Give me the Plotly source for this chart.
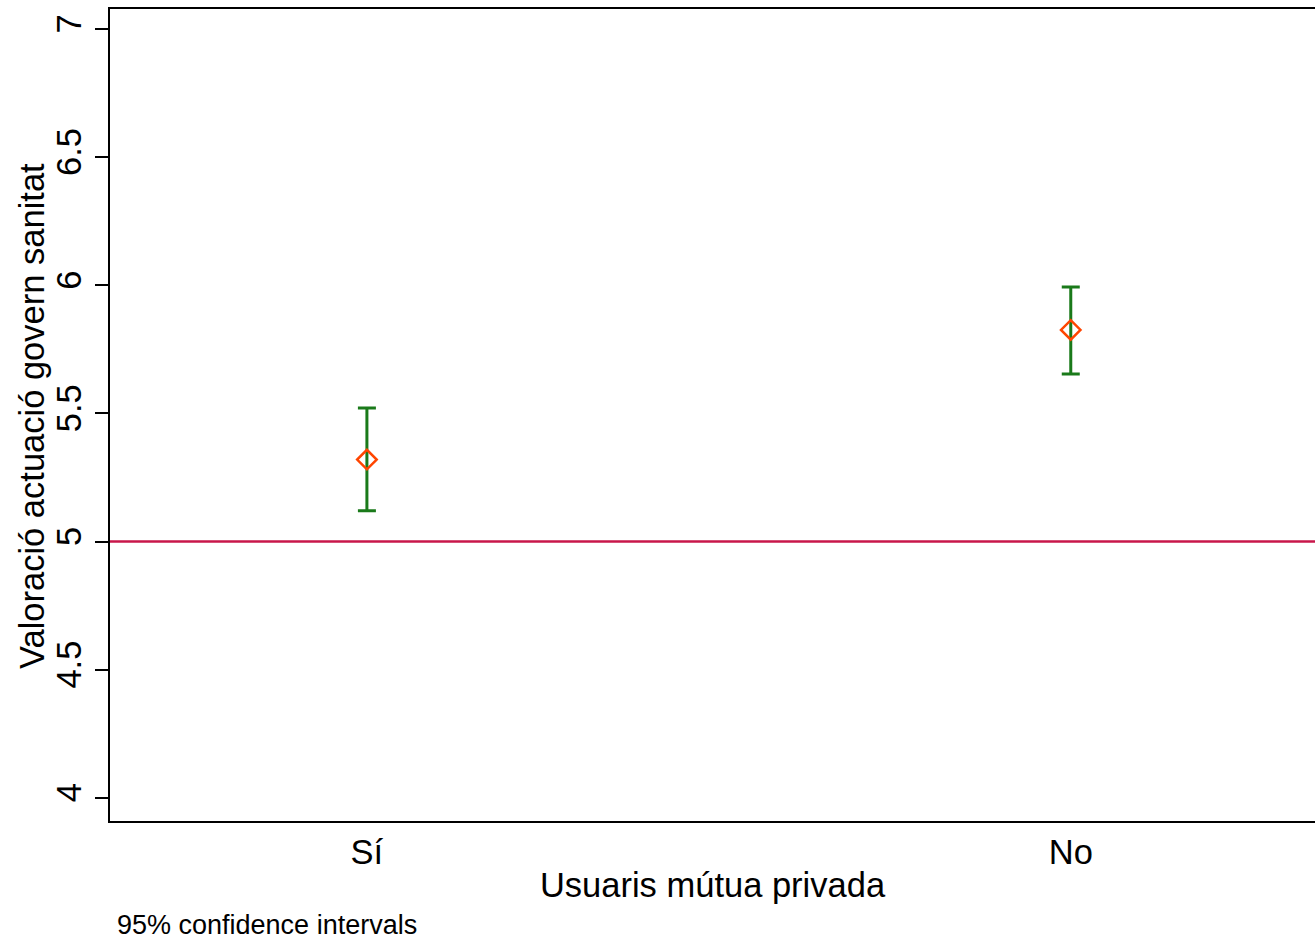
import plotly.graph_objects as go

categories = ["Sí", "No"]
x_pos = [1, 2]
means = [5.32, 5.826]
upper = [5.521, 5.993]
lower = [5.120, 5.654]
ref_value = 5
y_ticks = [4, 4.5, 5, 5.5, 6, 6.5, 7]
y_ticklabels = ["4", "4.5", "5", "5.5", "6", "6.5", "7"]

err_plus = [u - m for u, m in zip(upper, means)]
err_minus = [m - l for m, l in zip(means, lower)]

FONT = "Liberation Sans, Arial, sans-serif"
FS = 34.5

fig = go.Figure()
fig.add_trace(go.Scatter(
    x=x_pos, y=means, mode="markers",
    marker=dict(symbol="diamond-open", size=15, color="#ff4500", line=dict(width=2.5, color="#ff4500")),
    error_y=dict(type="data", symmetric=False, array=err_plus, arrayminus=err_minus,
                 color="#1a7a1a", thickness=3, width=9),
    showlegend=False,
))
fig.add_hline(y=ref_value, line=dict(color="#c8174a", width=2.5), layer="below")

fig.update_layout(
    width=1315, height=940,
    margin=dict(l=110, r=0, t=9, b=119),
    paper_bgcolor="white", plot_bgcolor="white",
    font=dict(family=FONT, color="black"),
    xaxis=dict(
        range=[0.635, 2.347], tickvals=x_pos, ticktext=categories,
        showgrid=False, zeroline=False, showline=True, mirror=True,
        linecolor="black", linewidth=2, ticks="",
        tickfont=dict(size=FS, family=FONT),
        title=dict(text="Usuaris mútua privada", font=dict(size=FS, family=FONT), standoff=2),
    ),
    yaxis=dict(
        range=[3.91, 7.078], tickvals=y_ticks, ticktext=y_ticklabels,
        showgrid=False, zeroline=False, showline=True, mirror=False,
        linecolor="black", linewidth=2, ticks="outside", ticklen=13, tickwidth=2, tickcolor="black",
        tickangle=-90, tickfont=dict(size=FS, family=FONT),
        title=dict(text=""),
    ),
    annotations=[
        dict(text="Valoració actuació govern sanitat", xref="paper", yref="paper",
             x=0, y=(821 - 416) / 812, xanchor="center", yanchor="middle",
             textangle=-90, showarrow=False, font=dict(size=FS, family=FONT), xshift=-78),
        dict(text="95% confidence intervals", xref="paper", yref="paper",
             x=0, y=0, xanchor="left", yanchor="middle",
             showarrow=False, font=dict(size=27, family=FONT), yshift=-104, xshift=5),
    ],
)

fig.write_html("out.html", config={"displayModeBar": False},
               post_script="document.body.style.margin='0';document.body.style.overflow='hidden';")
